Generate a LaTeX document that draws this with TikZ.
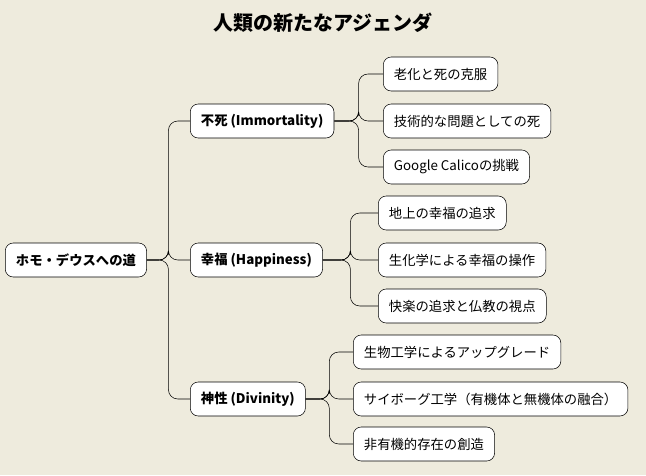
\documentclass[tikz,border=0pt]{standalone}
\usepackage{fontspec}
\setmainfont{Noto Sans CJK JP}
\usetikzlibrary{positioning,calc}
\definecolor{paper}{HTML}{EEEBDD}
\tikzset{main base/.style={draw,text centered,fill=white,rounded corners=6pt,minimum height=25.5pt,inner xsep=8pt,anchor=west,font=\fontsize{10}{12}\selectfont}, }
\tikzset{main node/.style={main base,font=\fontsize{10}{12}\selectfont\bfseries}, }
\tikzset{leaf node/.style={main base}, }
\tikzset{linea/.style={draw,thin,rounded corners=7pt}}
\begin{document}
\begin{tikzpicture}[x=0.75pt,y=-0.75pt]
\fill[paper] (0,0) rectangle (646,475);
\node[font=\fontsize{15}{18}\selectfont\bfseries] (title) at (323,23) {人類の新たなアジェンダ};
\node[main node] (0) at (5,260) {ホモ・デウスへの道};
\node[main node] (1) at (190,121) {不死 (Immortality)};
\node[main node] (2) at (190,260) {幸福 (Happiness)};
\node[main node] (3) at (190,399) {神性 (Divinity)};
\node[leaf node] (11) at (383,74) {老化と死の克服};
\node[leaf node] (12) at (383,121) {技術的な問題としての死};
\node[leaf node] (13) at (383,167) {Google Calicoの挑戦};
\node[leaf node] (21) at (378,213) {地上の幸福の追求};
\node[leaf node] (22) at (378,260) {生化学による幸福の操作};
\node[leaf node] (23) at (378,306) {快楽の追求と仏教の視点};
\node[leaf node] (31) at (353,352) {生物工学によるアップグレード};
\node[leaf node] (32) at (353,399) {サイボーグ工学（有機体と無機体の融合）};
\node[leaf node] (33) at (353,444) {非有機的存在の創造};
%
\foreach \x/\y in {0/1,0/2,0/3,1/11,1/12,1/13,2/21,2/22,2/23,3/31,3/32,3/33}
  \path[linea] (\x.east) -| ($(\x.east)!.5!(\y.west)$) |- (\y.west);
\end{tikzpicture}
\end{document}
